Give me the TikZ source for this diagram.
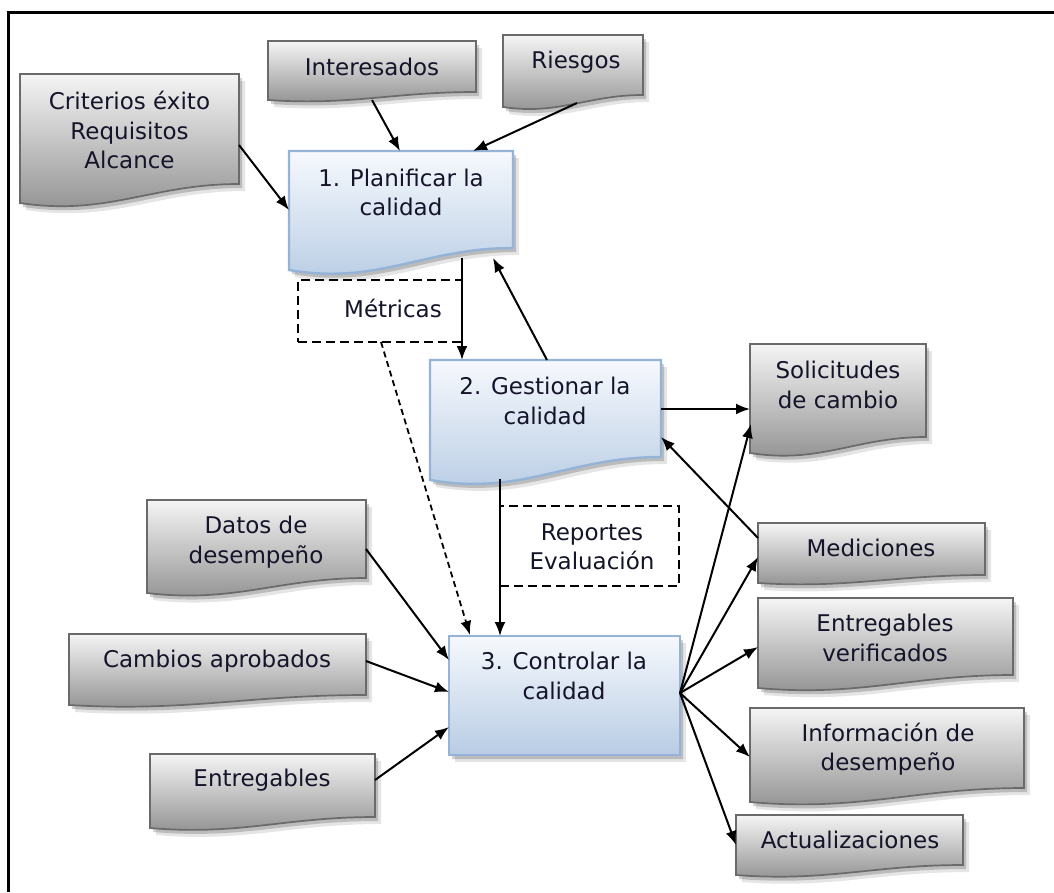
\documentclass[tikz,border=0pt]{standalone}
\usepackage{fontspec}
\setmainfont{DejaVu Sans}
\usetikzlibrary{arrows.meta,calc}

\definecolor{ink}{HTML}{14142A}
\definecolor{grayedge}{HTML}{6A6A6A}
\definecolor{blueedge}{HTML}{95B3D7}
\definecolor{bluetop}{HTML}{F6F9FD}
\definecolor{bluebot}{HTML}{B8CCE4}

\tikzset{
  grayfill/.style={top color=white!96!black, bottom color=black!44, draw=grayedge, line width=1.7pt},
  bluefill/.style={top color=bluetop, bottom color=bluebot, draw=blueedge, line width=2.4pt},
  boxnode/.style={inner sep=0pt, outer sep=0pt, draw=none, anchor=north west},
  lbl/.style={text=ink, align=center, font=\fontsize{23}{29.5}\selectfont, inner sep=0pt},
  arr/.style={line width=2pt, -{Latex[length=14pt,width=11pt]}},
  darr/.style={arr, dash pattern=on 6pt off 4pt, line width=1.8pt},
  dbox/.style={boxnode, draw=black, line width=2.8pt, dash pattern=on 9pt off 5pt},
}

% document shape with a wavy bottom edge and a soft drop shadow
% #1 name, #2 fill style, #3 left, #4 top, #5 right, #6 right bottom, #7 left bottom
\newcommand\docnode[7]{%
  \pgfmathsetmacro\wa{#3+0.6*(#5-#3)}%
  \pgfmathsetmacro\wb{#3+0.4*(#5-#3)}%
  \pgfmathsetmacro\wk{#7+0.7*(#7-#6)}%
  \fill[black,opacity=0.10] (#3+6,#4+7) -- (#5+6,#4+7) -- (#5+6,#6+7)
    .. controls (\wa+6,#6+7) and (\wb+6,\wk+7) .. (#3+6,#7+7) -- cycle;
  \fill[black,opacity=0.18] (#3+3,#4+4) -- (#5+3,#4+4) -- (#5+3,#6+4)
    .. controls (\wa+3,#6+4) and (\wb+3,\wk+4) .. (#3+3,#7+4) -- cycle;
  \shadedraw[#2] (#3,#4) -- (#5,#4) -- (#5,#6)
    .. controls (\wa,#6) and (\wb,\wk) .. (#3,#7) -- cycle;
  \pgfmathsetmacro\ww{#5-#3}%
  \pgfmathsetmacro\hh{#7-#4}%
  \node[boxnode, minimum width=\ww pt, minimum height=\hh pt] (#1) at (#3,#4) {};
}

\begin{document}
\begin{tikzpicture}[x=1pt, y=-1pt]
  \useasboundingbox (0,0) rectangle (1054,892);
  \fill[white] (0,0) rectangle (1054,892);

  % outer frame
  \draw[line width=3pt] (8,892) -- (8,12) -- (1054,12);

  % inputs of the planning step
  \docnode{crit}{grayfill}{20}{74}{239}{184}{203}
  \node[lbl] (crit-t) at (129.5,130) {Criterios éxito\\Requisitos\\Alcance};
  \docnode{inte}{grayfill}{268}{41}{476}{92}{100}
  \node[lbl] (inte-t) at (372,67) {Interesados};
  \docnode{ries}{grayfill}{503}{35}{643}{95}{107}
  \node[lbl] (ries-t) at (576,62) {Riesgos};

  % the three processes
  \docnode{plan}{bluefill}{289}{151}{513}{248}{270}
  \node[lbl] (plan-t) at (401,192.5) {1. Planificar la\\calidad};
  \docnode{gest}{bluefill}{430}{360}{661}{457}{480}
  \node[lbl] (gest-t) at (545,401) {2. Gestionar la\\calidad};
  \docnode{ctrl}{bluefill}{449}{636}{680}{755}{755}
  \node[lbl] (ctrl-t) at (564,676) {3. Controlar la\\calidad};

  % dashed outputs
  \node[dbox, minimum width=164pt, minimum height=62pt] (metr) at (298,280) {};
  \node[lbl] (metr-t) at (393,308) {Métricas};
  \node[dbox, minimum width=179pt, minimum height=80pt] (repo) at (500,506) {};
  \node[lbl] (repo-t) at (592,547) {Reportes\\Evaluación};

  % inputs of the control step
  \docnode{dato}{grayfill}{147}{500}{366}{578}{593}
  \node[lbl] (dato-t) at (256,542) {Datos de\\desempeño};
  \docnode{camb}{grayfill}{69}{634}{366}{695}{705}
  \node[lbl] (camb-t) at (217,661) {Cambios aprobados};
  \docnode{entr}{grayfill}{150}{754}{375}{817}{828}
  \node[lbl] (entr-t) at (262,780) {Entregables};

  % outputs
  \docnode{soli}{grayfill}{750}{344}{926}{437}{453}
  \node[lbl] (soli-t) at (838,385) {Solicitudes\\de cambio};
  \docnode{medi}{grayfill}{758}{523}{985}{575}{583}
  \node[lbl] (medi-t) at (871,548) {Mediciones};
  \docnode{entv}{grayfill}{758}{598}{1013}{675}{688}
  \node[lbl] (entv-t) at (885,638) {Entregables\\verificados};
  \docnode{info}{grayfill}{750}{708}{1024}{788}{802}
  \node[lbl] (info-t) at (888,749) {Información de\\desempeño};
  \docnode{actu}{grayfill}{736}{815}{963}{865}{875}
  \node[lbl] (actu-t) at (850,840) {Actualizaciones};

  % connectors
  \draw[arr] ($(crit.north west)+(219,71)$) -- ($(plan.north west)+(0,59)$);
  \draw[arr] ($(inte.north west)+(104,59)$) -- ($(plan.north west)+(111,0)$);
  \draw[arr] ($(ries.north west)+(74,68)$) -- ($(plan.north west)+(184,0)$);
  \draw[arr] ($(plan.north west)+(173,107)$) -- ($(gest.north west)+(32,0)$);
  \draw[arr] ($(gest.north west)+(117,0)$) -- ($(plan.north west)+(204,107)$);
  \draw[darr] ($(metr.north west)+(83,62)$) -- ($(ctrl.north west)+(21,-1)$);
  \draw[arr] ($(gest.north west)+(70,119)$) -- ($(ctrl.north west)+(51,0)$);
  \draw[arr] ($(gest.north west)+(231,49)$) -- ($(soli.north west)+(0,65)$);
  \draw[arr] ($(medi.north west)+(0,15)$) -- ($(gest.north west)+(231,77)$);
  \draw[arr] ($(dato.north west)+(219,49)$) -- ($(ctrl.north west)+(0,24)$);
  \draw[arr] ($(camb.north west)+(297,27)$) -- ($(ctrl.north west)+(0,56)$);
  \draw[arr] ($(entr.north west)+(225,26)$) -- ($(ctrl.north west)+(0,91)$);
  \draw[arr] ($(ctrl.north west)+(231,57)$) -- ($(soli.north west)+(1,80)$);
  \draw[arr] ($(ctrl.north west)+(231,57)$) -- ($(medi.north west)+(0,34)$);
  \draw[arr] ($(ctrl.north west)+(231,57)$) -- ($(entv.north west)+(0,49)$);
  \draw[arr] ($(ctrl.north west)+(231,57)$) -- ($(info.north west)+(0,49)$);
  \draw[arr] ($(ctrl.north west)+(231,57)$) -- ($(actu.north west)+(0,30)$);
\end{tikzpicture}
\end{document}
